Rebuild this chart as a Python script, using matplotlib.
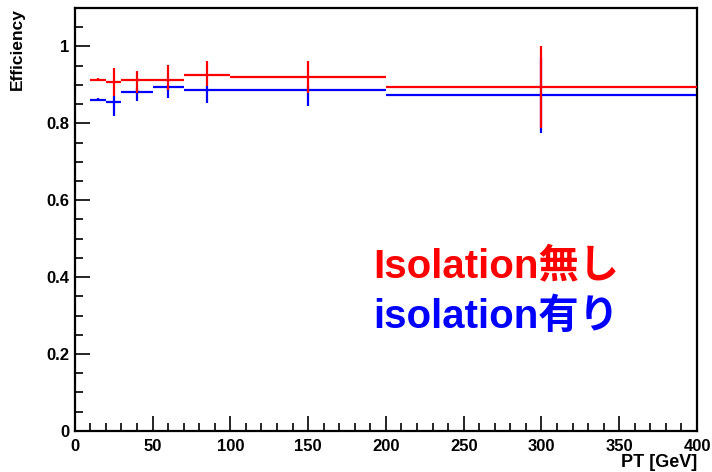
#!/usr/bin/env python
import numpy as np
import matplotlib
matplotlib.use("Agg")
import matplotlib.pyplot as plt
from matplotlib.ticker import MultipleLocator, FuncFormatter

# bin edges in PT [GeV]
bin_lo = [10, 20, 30, 50, 70, 100, 200]
bin_hi = [20, 30, 50, 70, 100, 200, 400]
bin_center = [15, 25, 40, 60, 85, 150, 300]

# efficiency without isolation (red)
eff_noiso = [0.914, 0.907, 0.914, 0.914, 0.927, 0.920, 0.894]
err_noiso_lo = [0.004, 0.036, 0.035, 0.026, 0.030, 0.041, 0.106]
err_noiso_hi = [0.004, 0.037, 0.022, 0.037, 0.035, 0.042, 0.106]

# efficiency with isolation (blue)
eff_iso = [0.862, 0.855, 0.881, 0.895, 0.888, 0.888, 0.874]
err_iso_lo = [0.004, 0.035, 0.023, 0.028, 0.034, 0.043, 0.099]
err_iso_hi = [0.004, 0.016, 0.011, 0.006, 0.009, 0.010, 0.099]

label_noiso = "Isolation無し"
label_iso = "isolation有り"

plt.rcParams['font.family'] = ['Liberation Sans', 'Noto Sans CJK JP']

fig = plt.figure(figsize=(7.12, 4.72), dpi=100)
ax = fig.add_axes([0.105, 0.087, 0.874, 0.896])

xc = np.array(bin_center)
xerr = [xc - np.array(bin_lo), np.array(bin_hi) - xc]

ax.errorbar(xc, eff_noiso, xerr=xerr, yerr=[err_noiso_lo, err_noiso_hi],
            fmt='none', ecolor='#ff0000', elinewidth=1.6, capsize=0, zorder=3)
ax.errorbar(xc, eff_iso, xerr=xerr, yerr=[err_iso_lo, err_iso_hi],
            fmt='none', ecolor='#0000ff', elinewidth=1.6, capsize=0, zorder=2)

ax.set_xlim(0, 400)
ax.set_ylim(0, 1.1)

###
### Axis style (ROOT-like)
###
for s in ax.spines.values():
    s.set_linewidth(1.6)
ax.xaxis.set_major_locator(MultipleLocator(50))
ax.xaxis.set_minor_locator(MultipleLocator(10))
ax.yaxis.set_major_locator(MultipleLocator(0.2))
ax.yaxis.set_minor_locator(MultipleLocator(0.05))
ax.yaxis.set_major_formatter(FuncFormatter(lambda v, p: f"{v:g}"))
ax.tick_params(which='both', direction='in', top=False, right=False,
               width=1.2, labelsize=12, colors='black')
ax.tick_params(which='major', length=11)
ax.tick_params(which='minor', length=6)
ax.tick_params(axis='x', which='major', pad=6)
ax.tick_params(axis='y', which='major', pad=4)
for lab in ax.get_xticklabels() + ax.get_yticklabels():
    lab.set_fontweight('bold')

ax.set_xlabel("PT [GeV]", fontsize=13, fontweight='bold', loc='right')
ax.xaxis.set_label_coords(1.0, -0.055)
ax.set_ylabel("Efficiency", fontsize=12.5, fontweight='bold', loc='top')
ax.yaxis.set_label_coords(-0.08, 1.0)

###
### Legend text
###
ax.text(0.479, 0.364, label_noiso, transform=ax.transAxes, color='#ff0000',
        fontsize=29, fontweight='bold', ha='left', va='baseline')
ax.text(0.479, 0.2435, label_iso, transform=ax.transAxes, color='#0000ff',
        fontsize=29, fontweight='bold', ha='left', va='baseline')

plt.savefig("out.png", dpi=100)
